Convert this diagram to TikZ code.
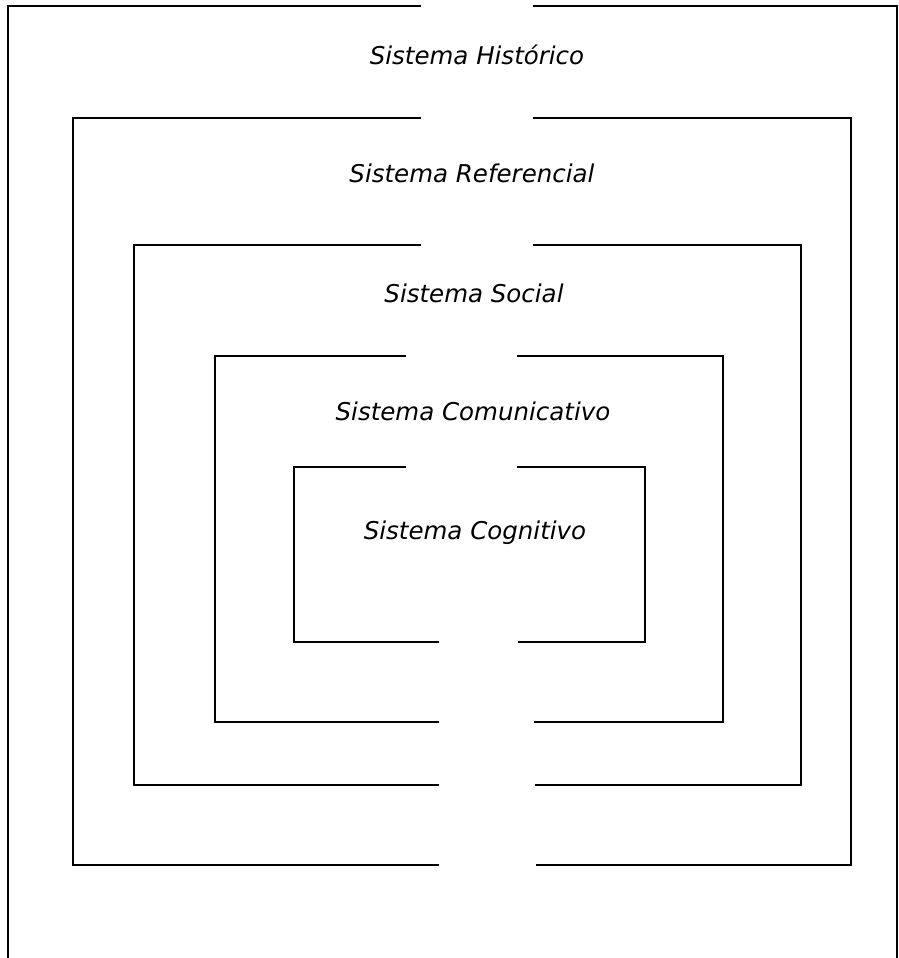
\documentclass[tikz,border=0pt]{standalone}
\usepackage{fontspec}
\newfontfamily\sisfont{DejaVu Sans}
\usetikzlibrary{positioning}

\tikzset{
    marco/.style={line width=2.2pt},
    sistema/.style={anchor=base, inner sep=0pt, font=\sisfont\itshape\fontsize{24.5}{29}\selectfont}
}

\begin{document}
\begin{tikzpicture}[x=1pt, y=-1pt]
    \useasboundingbox (0,0) rectangle (899,958);

    % Sistema Historico - marco exterior, abierto abajo
    \draw[marco] (421,6) -| (8,958);
    \draw[marco] (533,6) -| (897,958);
    \node[sistema] (hist) at (477,64) {Sistema Histórico};

    % Sistema Referencial
    \draw[marco] (421,118) -| (73,865) -- (439,865);
    \draw[marco] (533,118) -| (851,865) -- (536,865);
    \node[sistema] (ref) at (472,182) {Sistema Referencial};

    % Sistema Social
    \draw[marco] (421,245) -| (134,785) -- (439,785);
    \draw[marco] (533,245) -| (801,785) -- (535,785);
    \node[sistema] (soc) at (474,302) {Sistema Social};

    % Sistema Comunicativo
    \draw[marco] (406,356) -| (215,722) -- (439,722);
    \draw[marco] (517,356) -| (723,722) -- (534,722);
    \node[sistema] (com) at (473,420) {Sistema Comunicativo};

    % Sistema Cognitivo
    \draw[marco] (406,467) -| (294,642) -- (439,642);
    \draw[marco] (517,467) -| (645,642) -- (518,642);
    \node[sistema] (cog) at (475,539) {Sistema Cognitivo};
\end{tikzpicture}
\end{document}
